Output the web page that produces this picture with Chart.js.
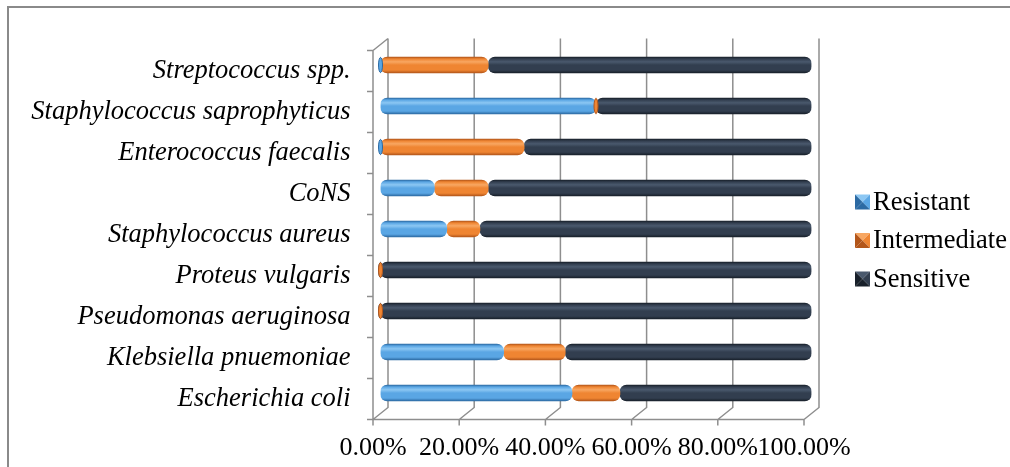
<!DOCTYPE html>
<html>
<head>
<meta charset="utf-8">
<script src="https://cdn.jsdelivr.net/npm/chart.js@4/dist/chart.umd.min.js"></script>
<style>
  html, body { margin: 0; padding: 0; background: #ffffff; }
  #wrap { position: relative; width: 1010px; height: 467px; }
</style>
</head>
<body>
<div id="wrap"><canvas id="c" width="1010" height="467"></canvas></div>
<script>
// Organisms, listed top to bottom
const organisms = [
  'Streptococcus spp.',
  'Staphylococcus saprophyticus',
  'Enterococcus faecalis',
  'CoNS',
  'Staphylococcus aureus',
  'Proteus vulgaris',
  'Pseudomonas aeruginosa',
  'Klebsiella pnuemoniae',
  'Escherichia coli'
];

// Share of isolates (%) in each susceptibility class
const resistant    = [0,  50,    0,     12.5, 15.38, 0,   0,   28.57, 44.44];
const intermediate = [25, 0,     33.33, 12.5, 7.69,  0,   0,   14.29, 11.11];
const sensitive    = [75, 50,    66.67, 75,   76.93, 100, 100, 57.14, 44.45];

const seriesNames = ['Resistant', 'Intermediate', 'Sensitive'];
const xTickValues = [0, 20, 40, 60, 80, 100];

// Cylinder shading tones per series
const tones = [
  { edge: '#2c6aa3', mid: '#5aa6e4', light: '#8cc7f3' },
  { edge: '#b3561a', mid: '#ef8532', light: '#f8a762' },
  { edge: '#18202a', mid: '#323e4f', light: '#4a596d' }
];

// Depth of the 3-D frame: front plane and back plane offsets from the bar plane
const DX = 7.5, DY = 6;
const FRAME = '#8e8e8e';
const SERIF = "'Liberation Serif', 'Times New Roman', serif";
const BAR = 16;

function cylinderFill(ctx, t) {
  const chart = ctx.chart;
  const ys = chart.scales && chart.scales.y;
  if (!ys || ctx.type !== 'data') return t.mid;
  const cy = ys.getPixelForValue(ctx.dataIndex);
  if (!isFinite(cy)) return t.mid;
  const h = BAR / 2;
  const g = chart.ctx.createLinearGradient(0, cy - h, 0, cy + h);
  g.addColorStop(0, t.edge);
  g.addColorStop(0.12, t.mid);
  g.addColorStop(0.3, t.light);
  g.addColorStop(0.5, t.mid);
  g.addColorStop(0.82, t.mid);
  g.addColorStop(1, t.edge);
  return g;
}

// Walls, floor, grid and outer border drawn in oblique projection
const frame3d = {
  id: 'frame3d',
  beforeDatasetsDraw(chart) {
    const { ctx, chartArea: a, scales: { x } } = chart;
    ctx.save();
    // outer border
    ctx.strokeStyle = '#8a8a8a';
    ctx.lineWidth = 2;
    ctx.beginPath();
    ctx.moveTo(8, chart.height);
    ctx.lineTo(8, 7);
    ctx.lineTo(chart.width, 7);
    ctx.stroke();

    ctx.strokeStyle = FRAME;
    ctx.lineWidth = 1.5;
    const topB = a.top - DY, botB = a.bottom - DY;
    const botF = a.bottom + DY, topF = a.top + DY;
    ctx.beginPath();
    xTickValues.forEach(v => {
      const px = x.getPixelForValue(v);
      // back wall gridline
      ctx.moveTo(px + DX, topB);
      ctx.lineTo(px + DX, botB);
      // floor edge to front
      ctx.lineTo(px - DX, botF);
      // tick mark
      ctx.lineTo(px - DX, botF + 6);
    });
    // front axis line
    ctx.moveTo(x.getPixelForValue(0) - DX, botF);
    ctx.lineTo(x.getPixelForValue(100) - DX, botF);
    // side wall
    const x0 = x.getPixelForValue(0);
    ctx.moveTo(x0 + DX, topB);
    ctx.lineTo(x0 - DX, topF);
    ctx.lineTo(x0 - DX, botF);
    // category ticks on the side wall
    const n = organisms.length;
    const step = (a.bottom - a.top) / n;
    for (let i = 0; i <= n; i++) {
      const yy = a.top + i * step + DY;
      ctx.moveTo(x0 - DX - 6, yy);
      ctx.lineTo(x0 - DX, yy);
    }
    ctx.stroke();
    ctx.restore();
  },
  afterDatasetsDraw(chart) {
    // zero-width segments show as a flat cap
    const { ctx, scales: { x, y } } = chart;
    const sets = chart.data.datasets;
    ctx.save();
    organisms.forEach((_, i) => {
      let run = 0;
      sets.forEach((ds, k) => {
        const v = ds.data[i];
        if (v === 0) {
          const px = x.getPixelForValue(run);
          const cy = y.getPixelForValue(i);
          ctx.fillStyle = tones[k].mid;
          ctx.strokeStyle = tones[k].edge;
          ctx.lineWidth = 1;
          ctx.beginPath();
          ctx.ellipse(px, cy, 2, BAR / 2 - 0.5, 0, 0, Math.PI * 2);
          ctx.fill();
          ctx.stroke();
        }
        run += v;
      });
    });
    ctx.restore();
  }
};

// Legend with bevelled markers at the right
const sideLegend = {
  id: 'sideLegend',
  afterDraw(chart, args, opts) {
    const { ctx } = chart;
    ctx.save();
    ctx.font = `${opts.size}px ${SERIF}`;
    ctx.textBaseline = 'middle';
    chart.data.datasets.forEach((ds, k) => {
      const cy = opts.top + k * opts.gap;
      const s = opts.box, bx = opts.left, by = cy - s / 2;
      const t = tones[k];
      const cx = bx + s / 2, cyy = by + s / 2;
      const tri = (pts, c) => {
        ctx.fillStyle = c;
        ctx.beginPath();
        ctx.moveTo(pts[0], pts[1]);
        ctx.lineTo(pts[2], pts[3]);
        ctx.lineTo(cx, cyy);
        ctx.closePath();
        ctx.fill();
      };
      tri([bx, by, bx + s, by], t.light);
      tri([bx + s, by, bx + s, by + s], t.mid);
      tri([bx + s, by + s, bx, by + s], t.edge);
      tri([bx, by + s, bx, by], t.edge);
      ctx.fillStyle = '#000';
      ctx.fillText(ds.label, bx + s + 3, cy + 1);
    });
    ctx.restore();
  }
};

const datasets = [resistant, intermediate, sensitive].map((vals, k) => ({
  label: seriesNames[k],
  data: vals,
  backgroundColor: c => cylinderFill(c, tones[k]),
  borderWidth: 0,
  borderRadius: { topLeft: 7, topRight: 7, bottomLeft: 7, bottomRight: 7 },
  borderSkipped: false,
  barThickness: BAR
}));

new Chart(document.getElementById('c'), {
  type: 'bar',
  data: { labels: organisms, datasets },
  plugins: [frame3d, sideLegend],
  options: {
    indexAxis: 'y',
    responsive: false,
    animation: false,
    layout: { padding: { top: 44.5, right: 198.5, left: 0, bottom: 0 } },
    scales: {
      x: {
        stacked: true,
        min: 0,
        max: 100,
        afterBuildTicks: s => { s.ticks = xTickValues.map(v => ({ value: v })); },
        afterFit: s => { s.height = 53.5; },
        grid: { display: false },
        border: { display: false },
        ticks: {
          padding: 11,
          labelOffset: -DX,
          color: '#000',
          font: { family: SERIF, size: 26 },
          maxRotation: 0,
          autoSkip: false,
          callback: v => Number(v).toFixed(2) + '%'
        }
      },
      y: {
        stacked: true,
        afterFit: s => { s.width = 380.5; },
        grid: { display: false },
        border: { display: false },
        ticks: {
          padding: 22,
          labelOffset: DY,
          color: '#000',
          font: { family: SERIF, size: 26.5, style: 'italic' },
          autoSkip: false
        }
      }
    },
    plugins: {
      legend: { display: false },
      tooltip: { enabled: false },
      sideLegend: { left: 855, top: 202, gap: 38.5, box: 15, size: 26.5 }
    }
  }
});
</script>
</body>
</html>
